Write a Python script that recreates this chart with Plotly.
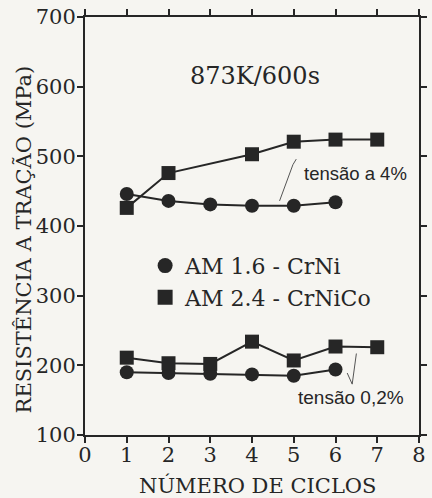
import plotly.graph_objects as go

ciclos_crni = [1, 2, 3, 4, 5, 6]
ciclos_crnico = [1, 2, 4, 5, 6, 7]
ciclos_crnico_02 = [1, 2, 3, 4, 5, 6, 7]

crni_4 = [446, 436, 431, 429, 429, 434]
crnico_4 = [426, 476, 503, 521, 524, 524]
crni_02 = [190, 189, 188, 187, 185, 194]
crnico_02 = [211, 203, 202, 234, 207, 227, 226]

x_ticks = [0, 1, 2, 3, 4, 5, 6, 7, 8]
y_ticks = [100, 200, 300, 400, 500, 600, 700]

ink = "#262626"
serif = "DejaVu Serif"
sans = "Liberation Sans"
bg = "#f6f5f1"

fig = go.Figure()


def add_series(x, y, symbol, name):
    fig.add_trace(go.Scatter(
        x=x, y=y, mode="lines+markers", name=name, showlegend=False,
        line=dict(color=ink, width=2),
        marker=dict(symbol=symbol, size=14, color=ink,
                    line=dict(color=ink, width=0)),
    ))


add_series(ciclos_crni, crni_4, "circle", "AM 1.6 - CrNi")
add_series(ciclos_crnico, crnico_4, "square", "AM 2.4 - CrNiCo")
add_series(ciclos_crni, crni_02, "circle", "AM 1.6 - CrNi")
add_series(ciclos_crnico_02, crnico_02, "square", "AM 2.4 - CrNiCo")

# legend entries (markers only)
for sym, nm in [("circle", "AM 1.6 - CrNi"), ("square", "AM 2.4 - CrNiCo")]:
    fig.add_trace(go.Scatter(
        x=[None], y=[None], mode="markers", name=nm, showlegend=True,
        marker=dict(symbol=sym, size=15, color=ink),
    ))

axis_common = dict(
    showline=True, linecolor=ink, linewidth=2, mirror="allticks",
    ticks="outside", ticklen=6, tickwidth=1.5, tickcolor=ink,
    showgrid=False, zeroline=False,
    tickfont=dict(family=serif, size=21, color=ink),
)

fig.update_layout(
    width=432, height=498,
    margin=dict(l=85, r=5, t=15, b=63),
    paper_bgcolor=bg, plot_bgcolor=bg,
    xaxis=dict(range=[0, 8], tickvals=x_ticks, ticklabelstandoff=-6, **axis_common),
    yaxis=dict(range=[100, 700], tickvals=y_ticks, ticklabelstandoff=-3, **axis_common),
    legend=dict(x=0.18, y=0.455, xanchor="left", yanchor="top",
                bgcolor="rgba(0,0,0,0)", font=dict(family=serif, size=22, color=ink),
                itemwidth=30, tracegroupgap=0),
    showlegend=True,
)

fig.add_annotation(text="873K/600s", xref="paper", yref="paper", x=(259 - 85) / 342,
                   y=(435 - 74) / 420, xanchor="center", yanchor="middle",
                   showarrow=False, font=dict(family=serif, size=24, color=ink))
fig.add_annotation(text="RESISTÊNCIA A TRAÇÃO (MPa)", xref="paper", yref="paper",
                   x=(22 - 85) / 342, y=(435 - 238) / 420, textangle=-90,
                   xanchor="center", yanchor="middle",
                   showarrow=False, font=dict(family=serif, size=21, color=ink))
fig.add_annotation(text="NÚMERO DE CICLOS", xref="paper", yref="paper",
                   x=(262 - 85) / 342, y=(435 - 486) / 420,
                   xanchor="center", yanchor="middle",
                   showarrow=False, font=dict(family=serif, size=21, color=ink))
fig.add_annotation(text="tensão a 4%", x=5.19, y=476, xanchor="left", yanchor="middle",
                   showarrow=False, font=dict(family=sans, size=18.5, color=ink))
fig.add_annotation(text="tensão 0,2%", x=5.05, y=154, xanchor="left", yanchor="middle",
                   showarrow=False, font=dict(family=sans, size=19, color=ink))

# leader lines
fig.add_shape(type="path", path="M 4.66 436 L 4.98 488 L 5.06 496",
              line=dict(color="#555555", width=1))
fig.add_shape(type="path", path="M 6.28 189 L 6.40 173 L 6.50 217",
              line=dict(color="#555555", width=1))

fig.write_html(
    "out.html",
    config={"displayModeBar": False},
    post_script="document.body.style.margin='0';document.body.style.overflow='hidden';"
                "document.body.style.background='" + bg + "';",
)
